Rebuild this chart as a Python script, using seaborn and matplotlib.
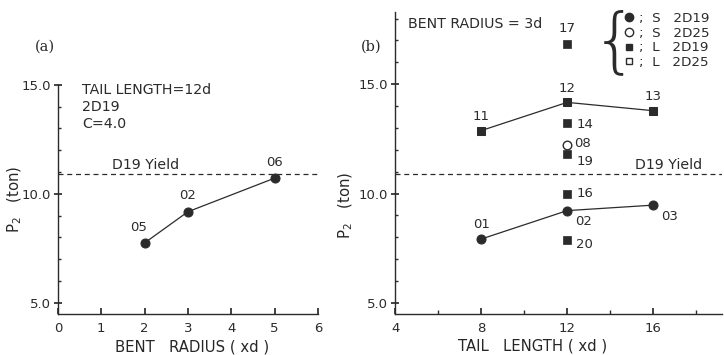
import numpy as np
import pandas as pd
import seaborn as sns
import matplotlib.pyplot as plt
from matplotlib.lines import Line2D
from matplotlib.ticker import MultipleLocator, FixedLocator

###### data ######

# (a) bent radius series, tail length = 12d, 2D19
radius = [2, 3, 5]
p2_radius = [7.75, 9.18, 10.72]
radius_ids = ["05", "02", "06"]

# (b) tail length series, bent radius = 3d
s19_len = [8, 12, 16]
s19_p2 = [7.92, 9.22, 9.47]
s19_ids = ["01", "02", "03"]

l19_len = [8, 12, 16]
l19_p2 = [12.88, 14.17, 13.79]
l19_ids = ["11", "12", "13"]

l19_extra_len = [12, 12, 12, 12, 12]
l19_extra_p2 = [16.85, 13.23, 11.82, 10.0, 7.88]
l19_extra_ids = ["17", "14", "19", "16", "20"]

s25_len = [12]
s25_p2 = [12.23]
s25_ids = ["08"]

yield_p2 = 10.9

INK = "#2b2b2b"
FS = 9.5     # tick labels / point ids
TFS = 10.2   # annotations, axis labels

sns.set_theme(style="ticks")
plt.rcParams['font.family'] = ['DejaVu Sans']
plt.rcParams['axes.edgecolor'] = INK
plt.rcParams['xtick.color'] = INK
plt.rcParams['ytick.color'] = INK
plt.rcParams['text.color'] = INK

fig = plt.figure(figsize=(7.24, 3.55), dpi=100)
ax1 = fig.add_axes([0.080, 0.116, 0.359, 0.645])
ax2 = fig.add_axes([0.546, 0.116, 0.451, 0.850])


def style_axis(ax):
	sns.despine(ax=ax)
	for s in ["left", "bottom"]:
		ax.spines[s].set_linewidth(1.0)
	ax.tick_params(axis="x", direction="in", length=4, labelsize=FS, pad=6)
	ax.tick_params(axis="x", which="minor", direction="in", length=3)
	ax.tick_params(axis="y", direction="inout", length=6, labelsize=FS, pad=2)
	ax.tick_params(axis="y", which="minor", direction="in", length=2.5)
	ax.yaxis.set_major_locator(FixedLocator([5, 10, 15]))
	ax.yaxis.set_major_formatter(plt.FuncFormatter(lambda v, p: "%.1f" % v))
	ax.yaxis.set_minor_locator(MultipleLocator(1))


def label_points(ax, xs, ys, ids, dx, dy, ha="center", va="center"):
	for x, y, t in zip(xs, ys, ids):
		ax.annotate(t, (x, y), xytext=(dx, dy), textcoords="offset pixels",
					ha=ha, va=va, fontsize=FS)


###### panel (a) ######
df_a = pd.DataFrame({"radius": radius, "P2": p2_radius})
sns.lineplot(data=df_a, x="radius", y="P2", ax=ax1, color=INK, lw=0.9,
			 marker="o", markersize=6.5, markeredgecolor=INK)
ax1.axhline(yield_p2, color=INK, ls=(0, (4, 3)), lw=0.9)
ax1.set_xlim(0, 6)
ax1.set_ylim(4.5, 15)
ax1.xaxis.set_major_locator(MultipleLocator(1))
style_axis(ax1)

label_points(ax1, radius[:1], p2_radius[:1], radius_ids[:1], -6, 15)
label_points(ax1, radius[1:], p2_radius[1:], radius_ids[1:], 0, 16)

ax1.text(0.092, 1.01, "TAIL LENGTH=12d\n2D19\nC=4.0", transform=ax1.transAxes,
		 fontsize=TFS, va="top", ha="left", linespacing=1.3)
ax1.text(1.25, 11.0, "D19 Yield", fontsize=TFS, va="bottom")
ax1.set_xlabel("BENT   RADIUS ( xd )", fontsize=TFS + 0.5, va="center")
ax1.xaxis.set_label_coords(0.515, -0.145)
ax1.set_ylabel("P$_2$   (ton)", fontsize=TFS + 0.5)
ax1.yaxis.set_label_coords(-0.13, 0.5)
fig.text(0.048, 0.868, "(a)", fontsize=FS + 1, family="DejaVu Serif", va="center")

###### panel (b) ######
df_s19 = pd.DataFrame({"L": s19_len, "P2": s19_p2})
df_l19 = pd.DataFrame({"L": l19_len, "P2": l19_p2})
df_l19x = pd.DataFrame({"L": l19_extra_len, "P2": l19_extra_p2})
df_s25 = pd.DataFrame({"L": s25_len, "P2": s25_p2})

sns.lineplot(data=df_s19, x="L", y="P2", ax=ax2, color=INK, lw=0.9,
			 marker="o", markersize=6.5, markeredgecolor=INK)
sns.lineplot(data=df_l19, x="L", y="P2", ax=ax2, color=INK, lw=0.9,
			 marker="s", markersize=5.8, markeredgecolor=INK)
sns.scatterplot(data=df_l19x, x="L", y="P2", ax=ax2, color=INK, marker="s",
				s=32, edgecolor=INK, linewidth=0.5)
sns.scatterplot(data=df_s25, x="L", y="P2", ax=ax2, facecolor="white", marker="o",
				s=38, edgecolor=INK, linewidth=1.0)
ax2.axhline(yield_p2, color=INK, ls=(0, (4, 3)), lw=0.9)
ax2.set_xlim(4, 19.2)
ax2.set_ylim(4.5, 18.3)
ax2.xaxis.set_major_locator(FixedLocator([4, 8, 12, 16]))
ax2.xaxis.set_minor_locator(FixedLocator([6, 10, 14, 18]))
style_axis(ax2)

label_points(ax2, s19_len[:1], s19_p2[:1], s19_ids[:1], 0, 15)
label_points(ax2, s19_len[1:], s19_p2[1:], s19_ids[1:], 16, -11)
label_points(ax2, l19_len, l19_p2, l19_ids, 0, 14)
label_points(ax2, l19_extra_len[:1], l19_extra_p2[:1], l19_extra_ids[:1], 0, 15)
label_points(ax2, l19_extra_len[1:2], l19_extra_p2[1:2], l19_extra_ids[1:2], 9, -2, ha="left")
label_points(ax2, l19_extra_len[2:3], l19_extra_p2[2:3], l19_extra_ids[2:3], 9, -8, ha="left")
label_points(ax2, l19_extra_len[3:4], l19_extra_p2[3:4], l19_extra_ids[3:4], 9, 0, ha="left")
label_points(ax2, l19_extra_len[4:5], l19_extra_p2[4:5], l19_extra_ids[4:5], 9, -5, ha="left")
label_points(ax2, s25_len, s25_p2, s25_ids, 7, 1, ha="left")

ax2.text(0.04, 0.985, "BENT RADIUS = 3d", transform=ax2.transAxes,
		 fontsize=TFS, va="top", ha="left")
ax2.text(15.17, 11.0, "D19 Yield", fontsize=TFS, va="bottom")
ax2.set_xlabel("TAIL   LENGTH ( xd )", fontsize=TFS + 0.5, va="center")
ax2.xaxis.set_label_coords(0.42, -0.105)
ax2.set_ylabel("P$_2$   (ton)", fontsize=TFS + 0.5)
ax2.yaxis.set_label_coords(-0.122, 0.36)
fig.text(0.498, 0.868, "(b)", fontsize=FS + 1, family="DejaVu Serif", va="center")

handles = [
	Line2D([], [], ls="", marker="o", color=INK, markersize=6),
	Line2D([], [], ls="", marker="o", mfc="white", mec=INK, markersize=6),
	Line2D([], [], ls="", marker="s", color=INK, markersize=5),
	Line2D([], [], ls="", marker="s", mfc="white", mec=INK, markersize=5),
]
legend_labels = [";  S   2D19", ";  S   2D25", ";  L   2D19", ";  L   2D25"]
ax2.legend(handles, legend_labels, loc="upper left", bbox_to_anchor=(0.70, 1.0),
		   frameon=False, fontsize=TFS - 0.5, handlelength=0.8, handletextpad=0.3,
		   labelspacing=0.12, borderaxespad=0.0, borderpad=0.0)
fig.text(0.849, 0.878, "{", fontsize=52, va="center", ha="center",
		 family="DejaVu Sans", fontweight="ultralight", color=INK)

plt.savefig("out.png", dpi=100)
plt.close()
